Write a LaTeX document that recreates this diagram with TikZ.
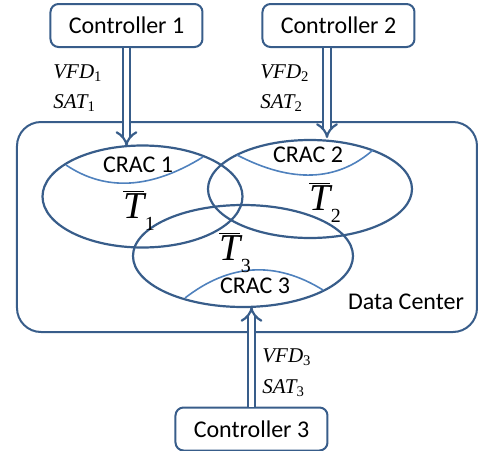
\documentclass[tikz,border=0pt]{standalone}
\usepackage{fontspec}
\setmainfont{Carlito}
\newfontfamily\tfont{Liberation Serif}
\usetikzlibrary{shapes.geometric,arrows.meta}

\definecolor{lineclr}{RGB}{56,93,138}
\definecolor{arcclr}{RGB}{79,129,189}

\begin{document}
\begin{tikzpicture}[x=0.5pt,y=-0.5pt,
	ctrl/.style={draw=lineclr,line width=1pt,rounded corners=4pt,
		minimum width=76pt,minimum height=21.5pt,inner sep=0pt,
		font=\fontsize{12}{14}\selectfont},
	crac/.style={ellipse,draw=lineclr,line width=1.1pt,inner sep=0pt},
	cut/.style={draw=arcclr,line width=0.8pt},
	sig/.style={draw=lineclr,line width=1.1pt,double=white,
		double distance=2.6pt,-{Implies[]}},
	var/.style={font=\tfont\fontsize{10.5}{12}\selectfont,anchor=west,inner sep=0pt},
	avg/.style={font=\tfont\fontsize{19}{20}\selectfont,inner sep=0pt},
	lbl/.style={font=\fontsize{12}{14}\selectfont,inner sep=0pt}]

\def\subT#1{$\overline{\mbox{\itshape T}}$\kern0.02em\raisebox{-0.3em}{\fontsize{10}{10}\selectfont #1}}
\def\subV#1#2{{\itshape #1}\textsubscript{#2}}

\useasboundingbox (0,0) rectangle (484,451);

	% data center
	\node [draw=lineclr,line width=1pt,rounded corners=12pt,
	       minimum width=230pt,minimum height=105pt] (dc) at (247,227) {};
	\node [lbl] (dclbl) at (406,302) {Data Center};

	% zones
	\node [crac,minimum width=100pt,minimum height=51pt] (z1) at (142.5,196.5) {};
	\node [crac,minimum width=102pt,minimum height=49pt] (z2) at (310,189) {};
	\node [crac,minimum width=110pt,minimum height=51pt] (z3) at (243,256) {};

	% crac cuts
	\draw [cut] (66,165) .. controls (105.7,191.7) and (151.3,189) .. (203,157);
	\draw [cut] (237,155) .. controls (291.7,183.3) and (337,181.7) .. (373,150);
	\draw [cut] (185,298) .. controls (229.7,263.3) and (275.7,260.7) .. (323,290);

	\node [lbl] (crac1) at (138,165) {CRAC 1};
	\node [lbl] (crac2) at (308,155) {CRAC 2};
	\node [lbl] (crac3) at (255,286) {CRAC 3};

	% mean temperatures
	\node [avg] (t1) at (139,210) {\subT{1}};
	\node [avg] (t2) at (325,202) {\subT{2}};
	\node [avg] (t3) at (235,252) {\subT{3}};

	% controllers
	\node [ctrl] (c1) at (126.5,25.5) {Controller 1};
	\node [ctrl] (c2) at (338.5,25.5) {Controller 2};
	\node [ctrl] (c3) at (251.5,429) {Controller 3};

	\coordinate (in1) at (126.5,146);
	\coordinate (in2) at (327,138);
	\coordinate (in3) at (251.5,307);

	\draw [sig] (c1.south) -- (in1);
	\draw [sig] (c2.south -| in2) -- (in2);
	\draw [sig] (c3.north -| in3) -- (in3);

	% control variables
	\node [var] (vfd1) at (53,73) {\subV{VFD}{1}};
	\node [var] (sat1) at (53,103) {\subV{SAT}{1}};
	\node [var] (vfd2) at (260,73) {\subV{VFD}{2}};
	\node [var] (sat2) at (260,103) {\subV{SAT}{2}};
	\node [var] (vfd3) at (262,357) {\subV{VFD}{3}};
	\node [var] (sat3) at (262,388) {\subV{SAT}{3}};

\end{tikzpicture}
\end{document}
